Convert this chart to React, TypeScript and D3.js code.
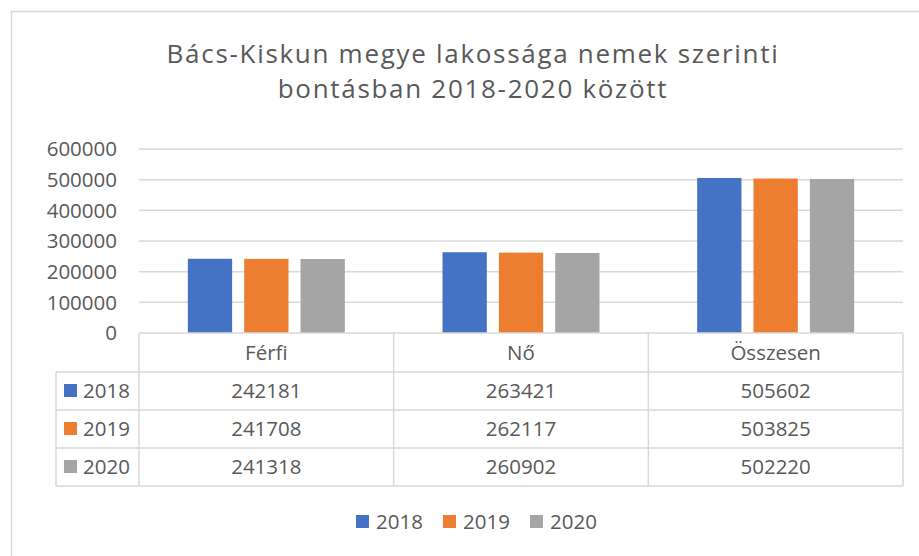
import React from 'react';
import * as d3 from 'd3';

const categories = ['Férfi', 'Nő', 'Összesen'];
const years = ['2018', '2019', '2020'];
const values2018 = [242181, 263421, 505602];
const values2019 = [241708, 262117, 503825];
const values2020 = [241318, 260902, 502220];
const yTicks = [0, 100000, 200000, 300000, 400000, 500000, 600000];
const colors = ['#4472C4', '#ED7D31', '#A5A5A5'];
const titleLines = ['Bács-Kiskun megye lakossága nemek szerinti', 'bontásban 2018-2020 között'];

const width = 919,
      height = 556;

const font = "'Open Sans', sans-serif";
const textColor = '#595959';
const lineColor = '#d9d9d9';

export default function App() {
  const series = [values2018, values2019, values2020];

  const plotLeft = 139,
        plotRight = 903,
        plotTop = 149,
        plotBottom = 333;

  const y = d3.scaleLinear()
    .domain([0, 600000])
    .range([plotBottom, plotTop]);

  const x0 = d3.scaleBand()
    .domain(categories)
    .range([plotLeft, plotRight]);

  const groupWidth = 157;
  const x1 = d3.scaleBand()
    .domain(years)
    .range([0, groupWidth])
    .paddingInner(0.214);

  const tableLeft = 56;
  const rows = d3.scaleBand()
    .domain(['header', ...years])
    .range([plotBottom + 1, 486]);

  const fmt = d3.format('d');

  return (
    <svg width={width} height={height} style={{ position: 'absolute', left: 0, top: 0, background: '#fff' }}>
      <rect x={11.5} y={11.5} width={width + 10} height={height + 10} fill='#fff' stroke={lineColor} strokeWidth={1.5} />

      {titleLines.map((t, i) => (
        <text key={i} x={473} y={63 + i * 35} textAnchor='middle' fontFamily={font} fontSize={26}
          letterSpacing={1.7} fill={textColor}>{t}</text>
      ))}

      {yTicks.map(t => (
        <g key={t}>
          {t > 0 && <line x1={plotLeft} x2={plotRight} y1={y(t)} y2={y(t)} stroke={lineColor} strokeWidth={1.5} />}
          <text x={117} y={y(t)} dy='0.35em' textAnchor='end' fontFamily={font} fontSize={20.5} fill={textColor}>{fmt(t)}</text>
        </g>
      ))}

      {categories.map((c, ci) => {
        const offset = x0(c) + (x0.bandwidth() - groupWidth) / 2;
        return (
          <g key={c}>
            {years.map((yr, si) => (
              <rect key={yr}
                x={offset + x1(yr)}
                y={y(series[si][ci])}
                width={x1.bandwidth()}
                height={plotBottom - y(series[si][ci])}
                fill={colors[si]} />
            ))}
          </g>
        );
      })}

      {/* data table */}
      <g stroke={lineColor} strokeWidth={1.5} fill='none'>
        <line x1={plotLeft} x2={plotRight} y1={plotBottom} y2={plotBottom} />
        {years.map(yr => (
          <line key={yr} x1={tableLeft} x2={plotRight} y1={rows(yr)} y2={rows(yr)} />
        ))}
        <line x1={tableLeft} x2={plotRight} y1={486} y2={486} />
        <line x1={tableLeft} x2={tableLeft} y1={rows('2018')} y2={486} />
        <line x1={plotLeft} x2={plotLeft} y1={plotBottom} y2={486} />
        {categories.map(c => (
          <line key={c} x1={x0(c) + x0.bandwidth()} x2={x0(c) + x0.bandwidth()} y1={plotBottom} y2={486} />
        ))}
      </g>

      {categories.map(c => (
        <text key={c} x={x0(c) + x0.bandwidth() / 2} y={rows('header') + rows.bandwidth() / 2} dy='0.35em'
          textAnchor='middle' fontFamily={font} fontSize={20.5} fill={textColor}>{c}</text>
      ))}

      {years.map((yr, si) => (
        <g key={yr}>
          <rect x={64} y={rows(yr) + rows.bandwidth() / 2 - 7} width={13} height={13} fill={colors[si]} />
          <text x={83} y={rows(yr) + rows.bandwidth() / 2} dy='0.35em' fontFamily={font} fontSize={20.5} fill={textColor}>{yr}</text>
          {categories.map((c, ci) => (
            <text key={c} x={x0(c) + x0.bandwidth() / 2} y={rows(yr) + rows.bandwidth() / 2} dy='0.35em'
              textAnchor='middle' fontFamily={font} fontSize={20.5} fill={textColor}>{fmt(series[si][ci])}</text>
          ))}
        </g>
      ))}

      {/* legend */}
      {years.map((yr, si) => (
        <g key={yr} transform={`translate(${356 + si * 87},0)`}>
          <rect x={0} y={515} width={13} height={13} fill={colors[si]} />
          <text x={20} y={522} dy='0.35em' fontFamily={font} fontSize={20.5} fill={textColor}>{yr}</text>
        </g>
      ))}
    </svg>
  );
}
